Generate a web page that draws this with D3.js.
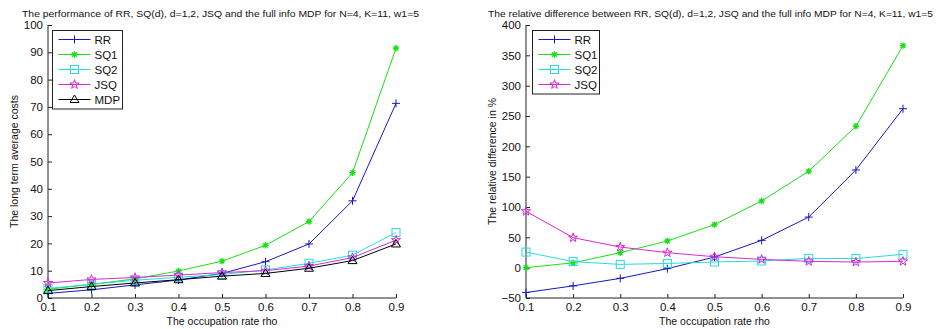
<!DOCTYPE html>
<html>
<head>
<meta charset="utf-8">
<script src="https://cdn.jsdelivr.net/npm/d3@7"></script>
<style>
  html, body { margin: 0; padding: 0; background: #fff; }
  svg { display: block; font-family: Arial, "Liberation Sans", sans-serif; }
</style>
</head>
<body>
<svg id="chart" width="940" height="329"></svg>
<script>
// Occupation rate values on the x axis
const rho = [0.1, 0.2, 0.3, 0.4, 0.5, 0.6, 0.7, 0.8, 0.9];
const xTicks = [0.1, 0.2, 0.3, 0.4, 0.5, 0.6, 0.7, 0.8, 0.9];

// Long term average costs per policy
const costRR  = [1.7, 3.0, 4.8, 6.6, 9.0, 13.3, 19.8, 35.6, 71.3];
const costSQ1 = [3.2, 5.0, 7.0, 9.9, 13.5, 19.3, 28.0, 45.9, 91.5];
const costSQ2 = [3.5, 5.0, 6.5, 7.6, 8.6, 10.3, 12.7, 15.7, 24.0];
const costJSQ = [5.5, 6.8, 7.5, 8.4, 9.3, 10.0, 11.7, 14.8, 21.2];
const costMDP = [2.7, 4.2, 5.5, 6.7, 8.0, 9.0, 10.9, 13.7, 19.8];
const costTicks = [0, 10, 20, 30, 40, 50, 60, 70, 80, 90, 100];

// Relative difference (%) to the full info MDP
const relRR  = [-41, -30, -17.6, -1.6, 17.5, 45, 83.4, 161, 262];
const relSQ1 = [0, 8, 24.7, 44, 71, 110, 159, 233, 366];
const relSQ2 = [25.7, 10, 5.4, 7, 9.3, 11, 15.3, 15, 22];
const relJSQ = [93, 49.4, 34, 24.7, 18, 13.7, 10.4, 9.3, 10.4];
const relTicks = [-50, 0, 50, 100, 150, 200, 250, 300, 350, 400];

const colors = { RR: "#1818c0", SQ1: "#18e018", SQ2: "#28dcdc", JSQ: "#d828d8", MDP: "#000000" };
const markers = { RR: "plus", SQ1: "asterisk", SQ2: "square", JSQ: "star", MDP: "triangle" };

const svg = d3.select("#chart");

function drawMarker(g, type, x, y, color) {
  const s = 4;
  if (type === "plus") {
    g.append("path").attr("d", `M${x - s},${y}H${x + s}M${x},${y - s}V${y + s}`)
      .attr("stroke", color).attr("stroke-width", 1).attr("fill", "none");
  } else if (type === "asterisk") {
    const r = 3.2, d = r * 0.72;
    g.append("path").attr("d",
      `M${x - r},${y}H${x + r}M${x},${y - r}V${y + r}M${x - d},${y - d}L${x + d},${y + d}M${x - d},${y + d}L${x + d},${y - d}`)
      .attr("stroke", color).attr("stroke-width", 1.3).attr("fill", "none");
  } else if (type === "square") {
    g.append("rect").attr("x", x - s).attr("y", y - s).attr("width", 2 * s).attr("height", 2 * s)
      .attr("stroke", color).attr("stroke-width", 1).attr("fill", "none");
  } else if (type === "star") {
    g.append("path").attr("d", d3.symbol(d3.symbolStar, 26)())
      .attr("transform", `translate(${x},${y})`)
      .attr("stroke", color).attr("stroke-width", 1).attr("fill", "none");
  } else if (type === "triangle") {
    g.append("path").attr("d", `M${x},${y - s - 0.5}L${x + s + 0.5},${y + s - 1}L${x - s - 0.5},${y + s - 1}Z`)
      .attr("stroke", color).attr("stroke-width", 1).attr("fill", "none");
  }
}

function panel(opts) {
  const g = svg.append("g");
  const x = d3.scaleLinear().domain([0.1, 0.9]).range([opts.left, opts.right]);
  const y = d3.scaleLinear().domain(opts.yDomain).range([opts.bottom, opts.top]);

  // title, fitted to its set width
  g.append("text").attr("x", opts.titleX).attr("y", 17)
    .attr("font-size", 9.9).attr("fill", "#111")
    .attr("textLength", opts.titleWidth).attr("lengthAdjust", "spacingAndGlyphs")
    .text(opts.title);

  // axes with inward ticks
  const xAxis = d3.axisBottom(x).tickValues(xTicks).tickSize(-4).tickPadding(5)
    .tickFormat(d3.format(".1f"));
  const yAxis = d3.axisLeft(y).tickValues(opts.yTicks).tickSize(-4).tickPadding(5)
    .tickFormat(d3.format("d"));

  const gx = g.append("g").attr("transform", `translate(0,${opts.bottom})`).call(xAxis);
  const gy = g.append("g").attr("transform", `translate(${opts.left},0)`).call(yAxis);
  [gx, gy].forEach(a => {
    a.selectAll("path.domain").attr("stroke", "#222").attr("stroke-width", 1);
    a.selectAll(".tick line").attr("stroke", "#222");
    a.selectAll("text").attr("font-size", 11.5).attr("fill", "#111")
      .attr("font-family", "Arial, 'Liberation Sans', sans-serif");
  });
  gx.selectAll("path.domain").attr("d", `M${opts.left},0H${opts.right}`);
  gy.selectAll("path.domain").attr("d", `M0,${opts.bottom}V${opts.top}`);

  // axis labels
  g.append("text").attr("x", (opts.left + opts.right) / 2).attr("y", 325)
    .attr("text-anchor", "middle").attr("font-size", 10.5).attr("fill", "#111")
    .text("The occupation rate rho");
  g.append("text")
    .attr("transform", `translate(${opts.yLabelX},${(opts.top + opts.bottom) / 2}) rotate(-90)`)
    .attr("text-anchor", "middle").attr("font-size", 10.5).attr("fill", "#111")
    .text(opts.yLabel);

  // series lines and markers
  const line = d3.line().x((d, i) => x(rho[i])).y(d => y(d));
  opts.series.forEach(s => {
    g.append("path").datum(s.values).attr("d", line)
      .attr("fill", "none").attr("stroke", colors[s.name]).attr("stroke-width", 1);
    s.values.forEach((v, i) => drawMarker(g, markers[s.name], x(rho[i]), y(v), colors[s.name]));
  });

  // legend
  const lg = opts.legend;
  const n = opts.series.length;
  g.append("rect").attr("x", lg.x).attr("y", lg.y).attr("width", lg.w).attr("height", 15 * n + 3.5)
    .attr("fill", "#fff").attr("stroke", "#222").attr("stroke-width", 1);
  opts.series.forEach((s, i) => {
    const yy = lg.y + 9 + 15 * i;
    g.append("line").attr("x1", lg.x + 6).attr("x2", lg.x + 38).attr("y1", yy).attr("y2", yy)
      .attr("stroke", colors[s.name]).attr("stroke-width", 1);
    drawMarker(g, markers[s.name], lg.x + 22, yy, colors[s.name]);
    g.append("text").attr("x", lg.x + 42).attr("y", yy + 4).attr("font-size", 11.5)
      .attr("fill", "#111").text(s.name);
  });
}

panel({
  left: 48, right: 396, top: 25, bottom: 298,
  yDomain: [0, 100], yTicks: costTicks,
  title: "The performance of RR, SQ(d), d=1,2, JSQ and the full info MDP for N=4, K=11, w1=5",
  titleX: 22, titleWidth: 397,
  yLabel: "The long term average costs", yLabelX: 18,
  legend: { x: 52.5, y: 30.5, w: 70 },
  series: [
    { name: "RR", values: costRR },
    { name: "SQ1", values: costSQ1 },
    { name: "SQ2", values: costSQ2 },
    { name: "JSQ", values: costJSQ },
    { name: "MDP", values: costMDP }
  ]
});

panel({
  left: 526, right: 903, top: 25, bottom: 298,
  yDomain: [-50, 400], yTicks: relTicks,
  title: "The relative difference between RR, SQ(d), d=1,2, JSQ and the full info MDP for N=4, K=11, w1=5",
  titleX: 488, titleWidth: 445,
  yLabel: "The relative difference in %", yLabelX: 496,
  legend: { x: 532.5, y: 30.5, w: 67 },
  series: [
    { name: "RR", values: relRR },
    { name: "SQ1", values: relSQ1 },
    { name: "SQ2", values: relSQ2 },
    { name: "JSQ", values: relJSQ }
  ]
});
</script>
</body>
</html>
